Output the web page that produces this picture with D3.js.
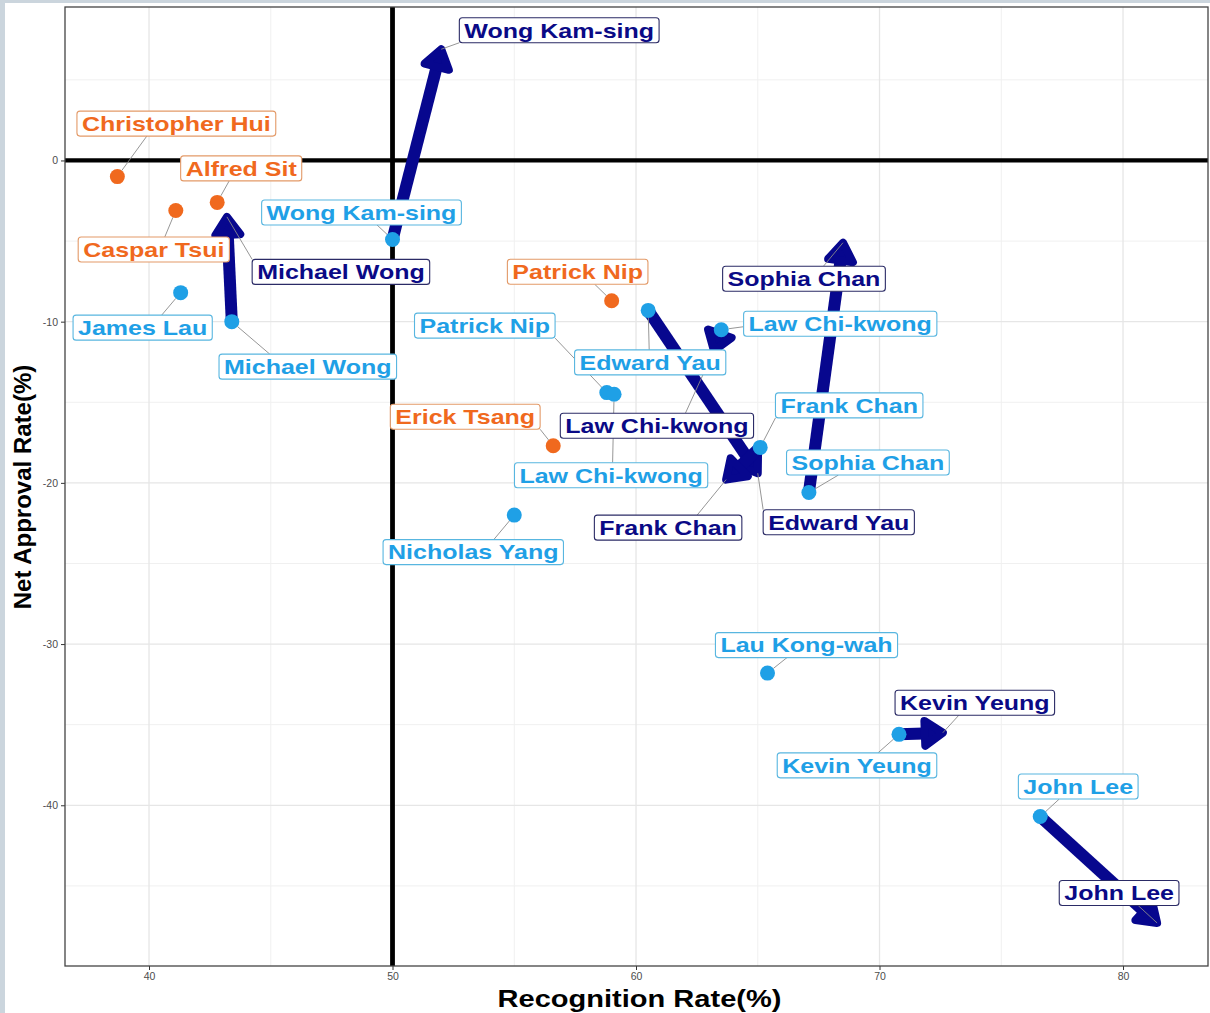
<!DOCTYPE html>
<html><head><meta charset="utf-8">
<script src="https://cdn.jsdelivr.net/npm/d3@7"></script>
<style>html,body{margin:0;padding:0;background:#fff;} svg{display:block;}</style>
</head><body>
<svg id="chart" width="1210" height="1013"></svg>
<script>
// ---------------- data ----------------
const xTicks = [40, 50, 60, 70, 80];
const yTicks = [0, -10, -20, -30, -40];
const xTickLabels = ["40", "50", "60", "70", "80"];
const yTickLabels = ["0", "-10", "-20", "-30", "-40"];
const xMinor = [45, 55, 65, 75];
const yMinor = [5, -5, -15, -25, -35, -45];

const xTitle = "Recognition Rate(%)";
const yTitle = "Net Approval Rate(%)";

// orange: single observations
const orangeNames = ["Christopher Hui", "Alfred Sit", "Caspar Tsui", "Patrick Nip", "Erick Tsang"];
const orangeRecognition = [38.7, 42.8, 41.1, 59.0, 56.6];
const orangeNet = [-1.0, -2.6, -3.1, -8.7, -17.7];

// light blue: earlier observations
const blueNames = ["James Lau", "Nicholas Yang", "Lau Kong-wah", "Patrick Nip", "Law Chi-kwong",
  "Michael Wong", "Wong Kam-sing", "Edward Yau", "Law Chi-kwong", "Frank Chan", "Sophia Chan",
  "Kevin Yeung", "John Lee"];
const blueRecognition = [41.3, 55.0, 65.4, 58.8, 59.1, 43.4, 50.0, 60.5, 63.5, 65.1, 67.1, 70.8, 76.6];
const blueNet = [-8.2, -22.0, -31.8, -14.4, -14.5, -10.0, -4.9, -9.3, -10.5, -17.8, -20.6, -35.6, -40.7];

// navy arrows: change from earlier to latest
const arrowNames = ["Michael Wong", "Wong Kam-sing", "Edward Yau", "Law Chi-kwong", "Frank Chan",
  "Sophia Chan", "Kevin Yeung", "John Lee"];
const arrowFromRecognition = [43.4, 50.0, 60.5, 63.5, 65.1, 67.1, 70.8, 76.6];
const arrowFromNet = [-10.0, -4.9, -9.3, -10.5, -17.8, -20.6, -35.6, -40.7];
const arrowToRecognition = [43.2, 52.0, 65.0, 63.2, 63.7, 68.5, 72.6, 81.4];
const arrowToNet = [-3.5, 6.9, -19.4, -11.8, -19.8, -5.1, -35.5, -47.3];

// ---------------- layout (label placement, px offsets from anchor) ----------------
const orangeLabelOffset = [[59, -53], [24, -34], [-22, 39], [-34, -29], [-88, -29]];
const blueLabelOffset = [[-38, 35], [-41, 37], [39, -28], [-122, -67], [-3, 81], [76, 45], [-31, -27],
  [2, 52], [119, -6], [89, -42], [59, -30], [-42, 31], [38, -30]];
const navyLabelOffset = [[114, 55], [118, -19], [81, 49], [-57, 75], [-58, 48], [-39, 36], [32, -30], [-38, -30]];

// ---------------- styles ----------------
const ORANGE = "#F0691E", ORANGE_BORDER = "#E39A68";
const BLUE = "#1FA0E6", BLUE_BORDER = "#58B6E0";
const NAVY = "#0A0A86", NAVY_BORDER = "#2B2B66";
const ARROW = "#07078E";

const panel = {left: 65, top: 7, right: 1208, bottom: 966};
const svg = d3.select("#chart");

// page backdrop strips
svg.append("rect").attr("x", 0).attr("y", 0).attr("width", 1210).attr("height", 1013).attr("fill", "#fff");
svg.append("rect").attr("x", 0).attr("y", 0).attr("width", 5).attr("height", 1013).attr("fill", "#CBD5DD");
svg.append("rect").attr("x", 0).attr("y", 0).attr("width", 1210).attr("height", 3).attr("fill", "#CBD5DD");

const x = d3.scaleLinear().domain([36.55, 83.49]).range([panel.left, panel.right]);
const y = d3.scaleLinear().domain([-49.97, 9.52]).range([panel.bottom, panel.top]);

const g = svg.append("g");
const font = "'Liberation Sans', Arial, Helvetica, sans-serif";

// grid
const grid = g.append("g");
xMinor.forEach(v => grid.append("line").attr("x1", x(v)).attr("x2", x(v)).attr("y1", panel.top).attr("y2", panel.bottom)
  .attr("stroke", "#F0F0F0").attr("stroke-width", 1));
yMinor.forEach(v => grid.append("line").attr("y1", y(v)).attr("y2", y(v)).attr("x1", panel.left).attr("x2", panel.right)
  .attr("stroke", "#F0F0F0").attr("stroke-width", 1));
xTicks.forEach(v => grid.append("line").attr("x1", x(v)).attr("x2", x(v)).attr("y1", panel.top).attr("y2", panel.bottom)
  .attr("stroke", "#E6E6E6").attr("stroke-width", 1.3));
yTicks.forEach(v => grid.append("line").attr("y1", y(v)).attr("y2", y(v)).attr("x1", panel.left).attr("x2", panel.right)
  .attr("stroke", "#E6E6E6").attr("stroke-width", 1.3));

// reference lines
g.append("line").attr("x1", panel.left).attr("x2", panel.right).attr("y1", y(0)).attr("y2", y(0))
  .attr("stroke", "#000").attr("stroke-width", 4.2);
g.append("line").attr("x1", x(50)).attr("x2", x(50)).attr("y1", panel.top).attr("y2", panel.bottom)
  .attr("stroke", "#000").attr("stroke-width", 4.8);

// axes
const xAxis = d3.axisBottom(x).tickValues(xTicks).tickFormat((d, i) => xTickLabels[i]).tickSize(4).tickPadding(3);
const yAxis = d3.axisLeft(y).tickValues(yTicks).tickFormat((d, i) => yTickLabels[i]).tickSize(4).tickPadding(3);
const gx = g.append("g").attr("transform", `translate(0,${panel.bottom})`).call(xAxis);
const gy = g.append("g").attr("transform", `translate(${panel.left},0)`).call(yAxis);
[gx, gy].forEach(ax => {
  ax.select(".domain").remove();
  ax.selectAll(".tick line").attr("stroke", "#333").attr("stroke-width", 1);
  ax.selectAll(".tick text").attr("fill", "#4D4D4D").attr("font-size", "10.5px").attr("font-family", font);
});

// panel border
g.append("rect").attr("x", panel.left).attr("y", panel.top).attr("width", panel.right - panel.left)
  .attr("height", panel.bottom - panel.top).attr("fill", "none").attr("stroke", "#444").attr("stroke-width", 1.3);

// axis titles
g.append("text").attr("x", (panel.left + panel.right) / 2 + 3).attr("y", 1007).attr("text-anchor", "middle")
  .attr("font-family", font).attr("font-weight", "bold").attr("font-size", "24px").attr("fill", "#000")
  .attr("textLength", 284).attr("lengthAdjust", "spacingAndGlyphs").text(xTitle);
g.append("text").attr("transform", "translate(31,487) rotate(-90)").attr("text-anchor", "middle")
  .attr("font-family", font).attr("font-weight", "bold").attr("font-size", "24px").attr("fill", "#000")
  .text(yTitle);

// arrows
const arrows = arrowNames.map((n, i) => ({
  name: n, sx: x(arrowFromRecognition[i]), sy: y(arrowFromNet[i]),
  ex: x(arrowToRecognition[i]), ey: y(arrowToNet[i])
}));
const ga = g.append("g");
const HL = 18, HW = 12.5;
arrows.forEach(a => {
  const dx = a.ex - a.sx, dy = a.ey - a.sy, len = Math.hypot(dx, dy);
  const ux = dx / len, uy = dy / len, nx = -uy, ny = ux;
  const bx = a.ex - ux * HL, by = a.ey - uy * HL;
  ga.append("line").attr("x1", a.sx).attr("y1", a.sy).attr("x2", a.ex - ux * HL * 0.6).attr("y2", a.ey - uy * HL * 0.6)
    .attr("stroke", ARROW).attr("stroke-width", 12).attr("stroke-linecap", "butt");
  ga.append("polygon")
    .attr("points", [[a.ex, a.ey], [bx + nx * HW, by + ny * HW], [bx - nx * HW, by - ny * HW]].map(p => p.join(",")).join(" "))
    .attr("fill", ARROW).attr("stroke", ARROW).attr("stroke-width", 8).attr("stroke-linejoin", "round");
});

// points
const R = 7.5;
const gp = g.append("g");
orangeNames.forEach((n, i) => gp.append("circle").attr("cx", x(orangeRecognition[i])).attr("cy", y(orangeNet[i]))
  .attr("r", R).attr("fill", ORANGE));
blueNames.forEach((n, i) => gp.append("circle").attr("cx", x(blueRecognition[i])).attr("cy", y(blueNet[i]))
  .attr("r", R).attr("fill", BLUE));

// labels
const labels = [];
orangeNames.forEach((n, i) => labels.push({text: n, ax: x(orangeRecognition[i]), ay: y(orangeNet[i]), off: orangeLabelOffset[i],
  color: ORANGE, border: ORANGE_BORDER, pr: R}));
blueNames.forEach((n, i) => labels.push({text: n, ax: x(blueRecognition[i]), ay: y(blueNet[i]), off: blueLabelOffset[i],
  color: BLUE, border: BLUE_BORDER, pr: R}));
arrows.forEach((a, i) => labels.push({text: a.name, ax: a.ex, ay: a.ey, off: navyLabelOffset[i],
  color: NAVY, border: NAVY_BORDER, pr: 0}));

const SX = 1.19, PAD = 5, BH = 25;
const clamp = (v, a, b) => Math.max(a, Math.min(b, v));
const gc = g.append("g");
const gl = g.append("g");
labels.forEach(l => {
  const cx = l.ax + l.off[0], cy = l.ay + l.off[1];
  const grp = gl.append("g");
  const rect = grp.append("rect");
  const t = grp.append("text").attr("x", cx).attr("y", cy + 7.3).attr("text-anchor", "middle")
    .attr("font-family", font).attr("font-weight", "bold").attr("font-size", "21px").attr("fill", l.color).text(l.text);
  const w = t.node().getComputedTextLength() * SX;
  t.attr("textLength", w).attr("lengthAdjust", "spacingAndGlyphs");
  const bw = w + 2 * PAD;
  const bx0 = cx - bw / 2, bx1 = cx + bw / 2, by0 = cy - BH / 2, by1 = cy + BH / 2;
  rect.attr("x", bx0).attr("y", by0).attr("width", bw).attr("height", BH).attr("rx", 3)
    .attr("fill", "#fff").attr("stroke", l.border).attr("stroke-width", 1.1);
  // connector from anchor to box edge
  const inside = l.ax >= bx0 && l.ax <= bx1 && l.ay >= by0 && l.ay <= by1;
  if (!inside) {
    const nX = clamp(l.ax, bx0, bx1), nY = clamp(l.ay, by0, by1);
    const mX = l.ax < bx0 ? bx0 : (l.ax > bx1 ? bx1 : cx);
    const mY = l.ay < by0 ? by0 : (l.ay > by1 ? by1 : cy);
    const exx = (nX + mX) / 2, eyy = (nY + mY) / 2;
    const d = Math.hypot(l.ax - exx, l.ay - eyy);
    if (d > l.pr + 3) {
      const sx0 = l.ax + (exx - l.ax) * (l.pr / d), sy0 = l.ay + (eyy - l.ay) * (l.pr / d);
      gc.append("line").attr("x1", sx0).attr("y1", sy0).attr("x2", exx).attr("y2", eyy)
        .attr("stroke", "#8A8A8A").attr("stroke-width", 0.9);
    }
  }
});
</script>
</body></html>
